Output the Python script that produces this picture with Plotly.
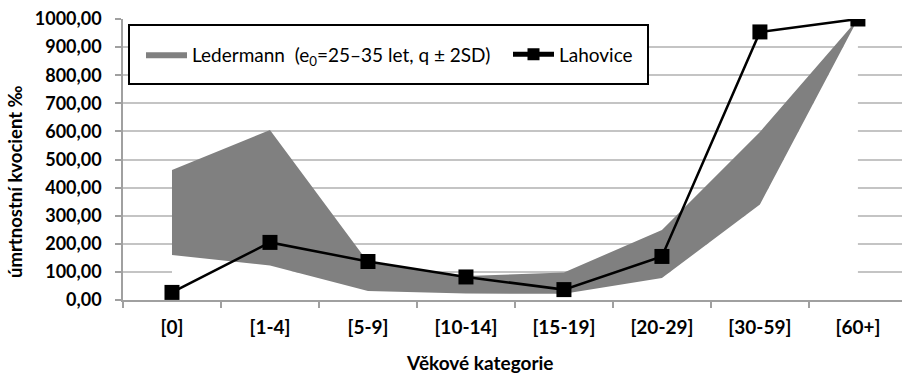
import plotly.graph_objects as go

# Age categories and mortality quotients (per mille)
categories = ["[0]", "[1-4]", "[5-9]", "[10-14]", "[15-19]", "[20-29]", "[30-59]", "[60+]"]
ledermann_low = [160, 123, 32, 23, 22, 78, 340, 1000]
ledermann_high = [463, 605, 135, 85, 98, 249, 598, 1000]
lahovice = [27, 205, 137, 82, 37, 155, 954, 1000]
y_ticks = [0, 100, 200, 300, 400, 500, 600, 700, 800, 900, 1000]

W, H = 902, 375
L, R, T, B = 123, 0, 19, 75
PW, PH = W - L - R, H - T - B


def px(x):
    return (x - L) / PW


def py(y):
    return (H - B - y) / PH


GRID = "#c4c4c4"
BAND = "#808080"
FONT = "Lato"

fig = go.Figure()

# white area under the lower bound (hides gridlines below the band)
fig.add_trace(go.Scatter(
    x=categories, y=ledermann_low, mode="lines",
    line=dict(width=0, color="white"), fill="tozeroy", fillcolor="white",
    showlegend=False, hoverinfo="skip",
))
# Ledermann band between lower and upper bound
fig.add_trace(go.Scatter(
    x=categories, y=ledermann_high, mode="lines",
    line=dict(width=0, color=BAND), fill="tonexty", fillcolor=BAND,
    name="Ledermann  (e<sub>0</sub>=25–35 let, q ± 2SD)",
))
# Lahovice series
fig.add_trace(go.Scatter(
    x=categories, y=lahovice, mode="lines+markers",
    line=dict(width=2.5, color="black"),
    marker=dict(symbol="square", size=15, color="black"),
    name="Lahovice",
))

# legend frame
fig.add_shape(type="rect", xref="paper", yref="paper",
              x0=px(129), x1=px(648), y0=py(84), y1=py(25),
              line=dict(color="black", width=2), fillcolor="white", layer="above")

fig.update_layout(
    width=W, height=H,
    margin=dict(l=L, r=R, t=T, b=B, pad=0),
    paper_bgcolor="white", plot_bgcolor="white",
    separators=", ",
    font=dict(family=FONT, color="black"),
    showlegend=True,
    legend=dict(
        orientation="h", x=px(141), y=py(54.5), xanchor="left", yanchor="middle",
        bgcolor="rgba(0,0,0,0)", borderwidth=0,
        font=dict(family=FONT, size=19, color="black"),
        itemwidth=41, traceorder="normal", itemsizing="constant",
        entrywidth=311,
    ),
    xaxis=dict(
        type="category", categoryorder="array", categoryarray=categories,
        range=[-0.5, 7.45], tickson="boundaries",
        ticks="outside", ticklen=6, tickcolor="#a0a0a0", tickwidth=1.5,
        showline=True, linecolor="#a0a0a0", linewidth=1.5,
        showgrid=False, zeroline=False,
        tickfont=dict(family=FONT, size=19, color="black", weight="bold"),
        ticklabelstandoff=9,
    ),
    yaxis=dict(
        range=[0, 1000], tickvals=y_ticks, tickformat=".2f",
        ticks="outside", ticklen=6, tickcolor="#a0a0a0", tickwidth=1.5,
        showline=True, linecolor="#a0a0a0", linewidth=1.5,
        showgrid=True, gridcolor=GRID, gridwidth=1.5, zeroline=False,
        tickfont=dict(family=FONT, size=18, color="black", weight="bold"),
        ticklabelstandoff=10,
    ),
    annotations=[
        dict(text="úmrtnostní kvocient ‰", textangle=-90, xref="paper", yref="paper",
             x=px(15), y=py(182), xanchor="center", yanchor="middle", showarrow=False,
             font=dict(family=FONT, size=18.5, color="black", weight="bold")),
        dict(text="Věkové kategorie", xref="paper", yref="paper",
             x=px(480), y=py(362), xanchor="center", yanchor="middle", showarrow=False,
             font=dict(family=FONT, size=19, color="black", weight="bold")),
    ],
)

fig.write_html("out.html")
